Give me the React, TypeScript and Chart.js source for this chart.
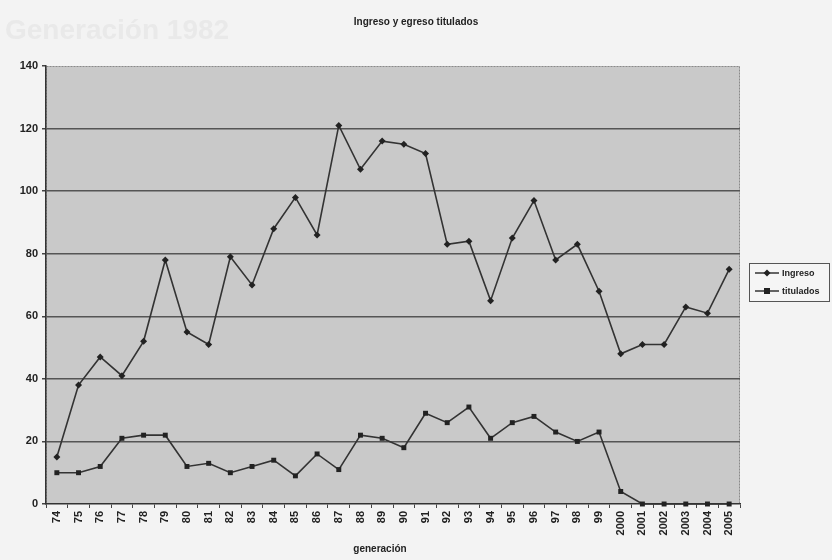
import React, { useEffect, useRef } from "react";
import { Chart, registerables } from "chart.js";

Chart.register(...registerables);

const categories = [
  "74", "75", "76", "77", "78", "79", "80", "81", "82", "83", "84", "85", "86", "87", "88", "89",
  "90", "91", "92", "93", "94", "95", "96", "97", "98", "99", "2000", "2001", "2002", "2003", "2004", "2005",
];
const ingreso = [
  15, 38, 47, 41, 52, 78, 55, 51, 79, 70, 88, 98, 86, 121, 107, 116,
  115, 112, 83, 84, 65, 85, 97, 78, 83, 68, 48, 51, 51, 63, 61, 75,
];
const titulados = [
  10, 10, 12, 21, 22, 22, 12, 13, 10, 12, 14, 9, 16, 11, 22, 21,
  18, 29, 26, 31, 21, 26, 28, 23, 20, 23, 4, 0, 0, 0, 0, 0,
];
const yTicks = [0, 20, 40, 60, 80, 100, 120, 140];

const FONT = "'Liberation Sans', Arial, sans-serif";

const decorPlugin = {
  id: "decor",
  beforeDraw(chart: any) {
    const { ctx, chartArea: a, width, height } = chart;
    ctx.save();
    ctx.fillStyle = "#f3f3f3";
    ctx.fillRect(0, 0, width, height);
    // faint bleed-through text
    ctx.fillStyle = "#e9e9e9";
    ctx.font = `bold 28px ${FONT}`;
    ctx.textBaseline = "middle";
    ctx.textAlign = "left";
    ctx.fillText("Generación 1982", 5, 31);
    ctx.fillStyle = "#c9c9c9";
    ctx.fillRect(a.left, a.top, a.right - a.left, a.bottom - a.top);
    ctx.strokeStyle = "#8a8a8a";
    ctx.lineWidth = 1;
    ctx.setLineDash([2, 1]);
    ctx.strokeRect(a.left + 0.5, a.top + 0.5, a.right - a.left - 1, a.bottom - a.top - 1);
    ctx.restore();
  },
  afterDraw(chart: any) {
    const { ctx } = chart;
    ctx.save();
    ctx.fillStyle = "#222";
    ctx.textAlign = "center";
    ctx.textBaseline = "middle";
    ctx.font = `bold 10px ${FONT}`;
    ctx.fillText("Ingreso y egreso titulados", 416, 22);
    ctx.fillText("generación", 380, 549);

    // legend
    const lx = 749, ly = 263, lw = 81, lh = 39;
    ctx.fillStyle = "#f5f5f5";
    ctx.fillRect(lx, ly, lw, lh);
    ctx.strokeStyle = "#555";
    ctx.lineWidth = 1;
    ctx.strokeRect(lx + 0.5, ly + 0.5, lw - 1, lh - 1);
    const rows = [
      { label: "Ingreso", y: ly + 10, style: "rectRot" },
      { label: "titulados", y: ly + 28, style: "rect" },
    ];
    rows.forEach((r) => {
      ctx.strokeStyle = "#333";
      ctx.lineWidth = 1.5;
      ctx.beginPath();
      ctx.moveTo(lx + 6, r.y);
      ctx.lineTo(lx + 30, r.y);
      ctx.stroke();
      ctx.fillStyle = "#222";
      ctx.beginPath();
      if (r.style === "rectRot") {
        ctx.moveTo(lx + 18, r.y - 3.5);
        ctx.lineTo(lx + 21.5, r.y);
        ctx.lineTo(lx + 18, r.y + 3.5);
        ctx.lineTo(lx + 14.5, r.y);
        ctx.closePath();
      } else {
        ctx.rect(lx + 15, r.y - 3, 6, 6);
      }
      ctx.fill();
      ctx.font = `bold 9px ${FONT}`;
      ctx.textAlign = "left";
      ctx.fillText(r.label, lx + 33, r.y + 0.5);
    });
    ctx.restore();
  },
};

export default function App() {
  const ref = useRef<HTMLCanvasElement>(null);
  useEffect(() => {
    document.body.style.margin = "0";
    const chart = new Chart(ref.current as HTMLCanvasElement, {
      type: "line",
      data: {
        labels: categories,
        datasets: [
          {
            label: "Ingreso",
            data: ingreso,
            borderColor: "#333",
            backgroundColor: "#222",
            borderWidth: 1.6,
            pointStyle: "rectRot",
            pointRadius: 3.5,
            pointBorderWidth: 0,
            tension: 0,
            clip: false,
          },
          {
            label: "titulados",
            data: titulados,
            borderColor: "#333",
            backgroundColor: "#222",
            borderWidth: 1.6,
            pointStyle: "rect",
            pointRadius: 3.5,
            pointBorderWidth: 0,
            tension: 0,
            clip: false,
          },
        ],
      },
      options: {
        responsive: false,
        animation: false,
        layout: { padding: { left: 6, right: 92, top: 66, bottom: 0 } },
        plugins: {
          legend: { display: false },
          title: { display: false },
          tooltip: { enabled: false },
        },
        scales: {
          x: {
            type: "category",
            offset: true,
            afterFit: (s: any) => {
              s.height = 56;
            },
            grid: {
              display: true,
              drawOnChartArea: false,
              drawTicks: true,
              tickLength: 4,
              color: "#444",
              offset: true,
            },
            border: { display: true, color: "#333", width: 1.5 },
            ticks: {
              color: "#222",
              font: { family: FONT, size: 11, weight: "bold" },
              maxRotation: 90,
              minRotation: 90,
              autoSkip: false,
              padding: 3,
            },
          },
          y: {
            min: 0,
            max: 140,
            afterFit: (s: any) => {
              s.width = 40;
            },
            afterBuildTicks: (s: any) => {
              s.ticks = yTicks.map((v) => ({ value: v }));
            },
            grid: {
              color: (c: any) =>
                c.tick && (c.tick.value === 0 || c.tick.value === 140) ? "rgba(0,0,0,0)" : "#555",
              lineWidth: 1.5,
              tickLength: 4,
              tickColor: "#444",
            },
            border: { display: true, color: "#333", width: 1.5 },
            ticks: {
              color: "#222",
              font: { family: FONT, size: 11, weight: "bold" },
              padding: 4,
            },
          },
        },
      },
      plugins: [decorPlugin],
    } as any);
    return () => chart.destroy();
  }, []);
  return <canvas ref={ref} width={832} height={560} style={{ display: "block" }} />;
}
